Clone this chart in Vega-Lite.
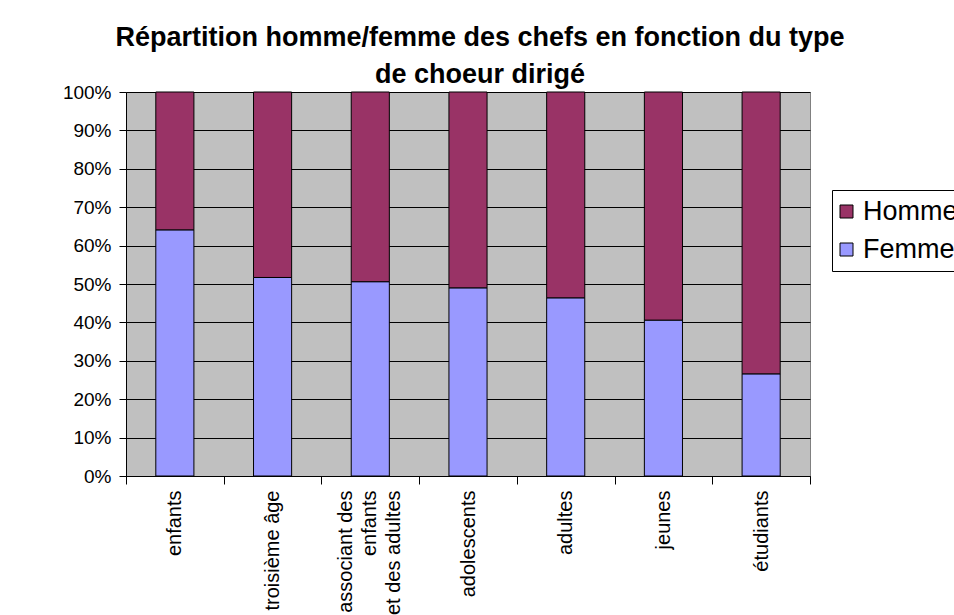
{
  "$schema": "https://vega.github.io/schema/vega-lite/v6.json",
  "width": 684,
  "height": 384,
  "autosize": {"type": "none"},
  "padding": {"left": 126, "top": 92, "right": 144, "bottom": 139},
  "background": "white",
  "title": {
    "text": ["Répartition homme/femme des chefs en fonction du type", "de choeur dirigé"],
    "font": "Liberation Sans",
    "fontSize": 27,
    "fontWeight": "bold",
    "color": "black",
    "anchor": "middle",
    "frame": "group",
    "dx": 12,
    "dy": 6,
    "lineHeight": 37,
    "offset": 0
  },
  "data": {
    "values": [
      {"type": "enfants", "genre": "Femme", "part": 0.641},
      {"type": "enfants", "genre": "Homme", "part": 0.359},
      {"type": "troisième âge", "genre": "Femme", "part": 0.517},
      {"type": "troisième âge", "genre": "Homme", "part": 0.483},
      {"type": "associant des enfants et des adultes", "genre": "Femme", "part": 0.506},
      {"type": "associant des enfants et des adultes", "genre": "Homme", "part": 0.494},
      {"type": "adolescents", "genre": "Femme", "part": 0.49},
      {"type": "adolescents", "genre": "Homme", "part": 0.51},
      {"type": "adultes", "genre": "Femme", "part": 0.464},
      {"type": "adultes", "genre": "Homme", "part": 0.536},
      {"type": "jeunes", "genre": "Femme", "part": 0.406},
      {"type": "jeunes", "genre": "Homme", "part": 0.594},
      {"type": "étudiants", "genre": "Femme", "part": 0.266},
      {"type": "étudiants", "genre": "Homme", "part": 0.734}
    ]
  },
  "mark": {"type": "bar", "width": {"band": 0.39}, "stroke": "black", "strokeWidth": 1},
  "encoding": {
    "x": {
      "field": "type",
      "type": "nominal",
      "sort": null,
      "scale": {"paddingInner": 0, "paddingOuter": 0},
      "axis": {
        "title": null,
        "tickBand": "extent",
        "labelAngle": 270,
        "labelAlign": "right",
        "labelBaseline": "middle",
        "labelFont": "Liberation Sans",
        "labelFontSize": 20,
        "labelColor": "black",
        "labelPadding": 6,
        "labelLineHeight": 24,
        "labelOverlap": false,
        "labelLimit": 300,
        "labelOffset": {"condition": {"test": "datum.value == 'associant des enfants et des adultes'", "value": -25}, "value": 0},
        "labelExpr": "datum.label == 'associant des enfants et des adultes' ? ['associant des', 'enfants\u00a0\u00a0\u00a0\u00a0\u00a0\u00a0\u00a0', 'et des adultes'] : datum.label",
        "tickSize": 8,
        "tickColor": "black",
        "domainColor": "black",
        "grid": false
      }
    },
    "y": {
      "field": "part",
      "type": "quantitative",
      "stack": "zero",
      "scale": {"domain": [0, 1], "nice": false},
      "axis": {
        "title": null,
        "format": ".0%",
        "values": [0, 0.1, 0.2, 0.3, 0.4, 0.5, 0.6, 0.7, 0.8, 0.9, 1],
        "grid": true,
        "gridColor": "black",
        "gridWidth": 1.2,
        "gridOpacity": 1,
        "domainColor": "black",
        "tickColor": "black",
        "tickSize": 7,
        "labelFont": "Liberation Sans",
        "labelFontSize": 19,
        "labelColor": "black",
        "labelPadding": 8
      }
    },
    "color": {
      "field": "genre",
      "type": "nominal",
      "scale": {"domain": ["Homme", "Femme"], "range": ["#993366", "#9999FF"]},
      "legend": {
        "title": null,
        "orient": "none",
        "legendX": 706,
        "legendY": 98,
        "strokeColor": "black",
        "fillColor": "white",
        "padding": 8,
        "symbolType": "square",
        "symbolSize": 169,
        "symbolOffset": -7,
        "symbolStrokeColor": "black",
        "symbolStrokeWidth": 1,
        "symbolOpacity": 1,
        "labelFont": "Liberation Sans",
        "labelFontSize": 27,
        "labelColor": "black",
        "labelOffset": 3,
        "rowPadding": 10
      }
    },
    "order": {"field": "genre", "sort": "ascending"}
  },
  "config": {
    "view": {"fill": "#C0C0C0", "stroke": "#808080"},
    "font": "Liberation Sans"
  }
}
